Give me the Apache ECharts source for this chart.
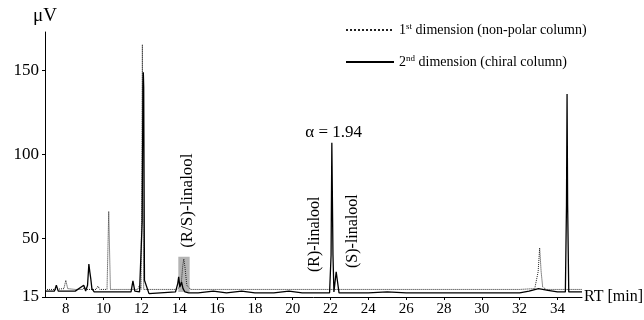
<!DOCTYPE html>
<html>
<head>
<meta charset="utf-8">
<script src="https://cdn.jsdelivr.net/npm/echarts@6/dist/echarts.min.js"></script>
<style>
  html, body { margin: 0; padding: 0; background: #fff; }
  #chart { width: 644px; height: 320px; }
</style>
</head>
<body>
<div id="chart"></div>
<script>
// 1st dimension (non-polar column), dotted trace
var rt1 = [6.9, 7.4, 7.9, 8.0, 8.1, 8.5, 8.9, 9.0, 9.1, 9.6, 9.7, 9.8, 10.18, 10.23, 10.27, 10.31, 10.36, 11.0, 11.8, 11.9, 11.98, 12.02, 12.05, 12.08, 12.12, 12.3, 13.0, 13.9, 14.1, 14.18, 14.24, 14.3, 14.4, 14.6, 16, 18, 20, 21.9, 22.4, 24, 26, 28, 30, 32, 32.8, 32.98, 33.06, 33.1, 33.14, 33.22, 33.4, 34, 35.3]
var uv1 = [19.5, 19.5, 20, 25, 20, 19.5, 19.5, 21, 19.5, 19.5, 21.5, 19.5, 19.5, 45, 66, 45, 19.5, 19.5, 19.5, 22, 19.5, 90, 165.5, 90, 19.5, 19.5, 19.5, 19.5, 22, 33, 37.7, 33, 22, 19.5, 19.5, 19.5, 19.5, 19.5, 19.5, 19.5, 19.5, 19.5, 19.5, 19.5, 20, 30, 44.3, 44.3, 30, 21, 19.5, 19.5, 19.5]

// 2nd dimension (chiral column), solid trace
var rt2 = [6.9, 7.4, 7.5, 7.6, 8.5, 8.95, 9.05, 9.15, 9.22, 9.27, 9.32, 9.38, 9.5, 10, 11, 11.45, 11.55, 11.65, 11.9, 12.04, 12.08, 12.1, 12.12, 12.16, 12.4, 13, 13.8, 13.92, 13.97, 14.03, 14.12, 14.2, 14.3, 14.5, 15, 15.8, 16.5, 17.3, 18, 19, 19.8, 20.5, 21, 21.95, 22.03, 22.07, 22.1, 22.13, 22.18, 22.25, 22.3, 22.36, 22.45, 23, 24, 25, 26, 27, 28, 29, 30, 31, 32, 32.5, 33, 33.5, 34, 34.42, 34.48, 34.51, 34.54, 34.6, 35, 35.3]
var uv2 = [18.5, 18.5, 22, 18.5, 18.5, 22, 18.5, 22, 34.7, 30, 26, 20, 18, 18, 18, 18, 24.6, 18.5, 18, 60, 140, 149, 140, 25, 17, 17.5, 18, 23, 27, 21, 24, 20, 18, 17.5, 17.5, 18.5, 17.5, 18.5, 17.5, 17.5, 18.5, 17.5, 17.5, 17.5, 40, 107, 107, 40, 18, 25, 30, 25, 17.5, 17.5, 17.5, 18, 17.5, 17.5, 17.5, 17.5, 17.5, 17.5, 17.5, 18.5, 20, 19, 18, 18, 70, 136, 70, 18, 18, 18]

var yTicks = [15, 50, 100, 150]
var xTicks = [8, 10, 12, 14, 16, 18, 20, 22, 24, 26, 28, 30, 32, 34]

function pairs(xs, ys) {
  return xs.map(function (x, i) { return [x, ys[i]] })
}

var serif = '"Liberation Serif", "DejaVu Serif", serif'
var chart = echarts.init(document.getElementById('chart'))

chart.setOption({
  animation: false,
  backgroundColor: '#fff',
  textStyle: { fontFamily: serif, color: '#000' },
  grid: { left: 45, right: 62, top: 32, bottom: 23, outerBoundsMode: 'none' },
  legend: {
    orient: 'vertical',
    left: 340,
    top: 17,
    itemWidth: 48,
    itemHeight: 10,
    itemGap: 17,
    itemStyle: { opacity: 0 },
    textStyle: {
      fontFamily: serif,
      fontSize: 14,
      color: '#000',
      rich: {
        sup: { fontFamily: serif, fontSize: 9, verticalAlign: 'top', padding: [0, 0, 7, 0] },
        n: { fontFamily: serif, fontSize: 14 }
      }
    },
    formatter: function (name) {
      if (name === 'first') return '{n|1}{sup|st}{n| dimension (non-polar column)}'
      return '{n|2}{sup|nd}{n| dimension (chiral column)}'
    },
    data: ['first', 'second']
  },
  xAxis: {
    type: 'value',
    min: 6.9,
    max: 35.3,
    name: 'RT [min]',
    nameLocation: 'end',
    nameGap: 2,
    nameTextStyle: { fontFamily: serif, fontSize: 16, color: '#000', verticalAlign: 'middle' },
    axisLine: { lineStyle: { color: '#000', width: 1 } },
    axisTick: { show: true, length: 3, customValues: xTicks, lineStyle: { color: '#000' } },
    axisLabel: { customValues: xTicks, fontFamily: serif, fontSize: 15, color: '#000', margin: 5 },
    splitLine: { show: false }
  },
  yAxis: {
    type: 'value',
    min: 15,
    max: 173,
    name: 'μV',
    nameLocation: 'end',
    nameGap: 6,
    nameTextStyle: { fontFamily: serif, fontSize: 19, color: '#000' },
    axisLine: { show: true, lineStyle: { color: '#000', width: 1 } },
    axisTick: { show: true, length: 3, customValues: yTicks, lineStyle: { color: '#000' } },
    axisLabel: { customValues: yTicks, fontFamily: serif, fontSize: 17, color: '#000', margin: 6 },
    splitLine: { show: false }
  },
  series: [{
    name: 'first',
    type: 'line',
    symbol: 'none',
    data: pairs(rt1, uv1),
    lineStyle: { color: '#222', width: 1, type: 'dotted' },
    itemStyle: { color: '#222' },
    z: 2
  }, {
    name: 'second',
    type: 'line',
    symbol: 'none',
    data: pairs(rt2, uv2),
    lineStyle: { color: '#000', width: 1.3 },
    itemStyle: { color: '#000' },
    markArea: {
      silent: true,
      itemStyle: { color: '#b4b4b4' },
      data: [[{ coord: [13.95, 18] }, { coord: [14.55, 39] }]]
    },
    z: 3
  }]
})

// annotation texts anchored in data coordinates
var notes = [
  { text: '(R/S)-linalool', at: [14.45, 44.3], rot: true, size: 17 },
  { text: '(R)-linalool', at: [21.16, 29.9], rot: true, size: 16 },
  { text: '(S)-linalool', at: [23.17, 32.3], rot: true, size: 16 },
  { text: 'α = 1.94', at: [22.17, 113], rot: false, size: 17 }
]
chart.setOption({
  graphic: notes.map(function (n) {
    var p = chart.convertToPixel({ gridIndex: 0 }, n.at)
    return {
      type: 'text',
      x: p[0],
      y: p[1],
      rotation: n.rot ? Math.PI / 2 : 0,
      style: {
        text: n.text,
        fontFamily: serif,
        fontSize: n.size,
        fill: '#000',
        align: n.rot ? 'left' : 'center',
        verticalAlign: 'middle'
      }
    }
  })
})
</script>
</body>
</html>
